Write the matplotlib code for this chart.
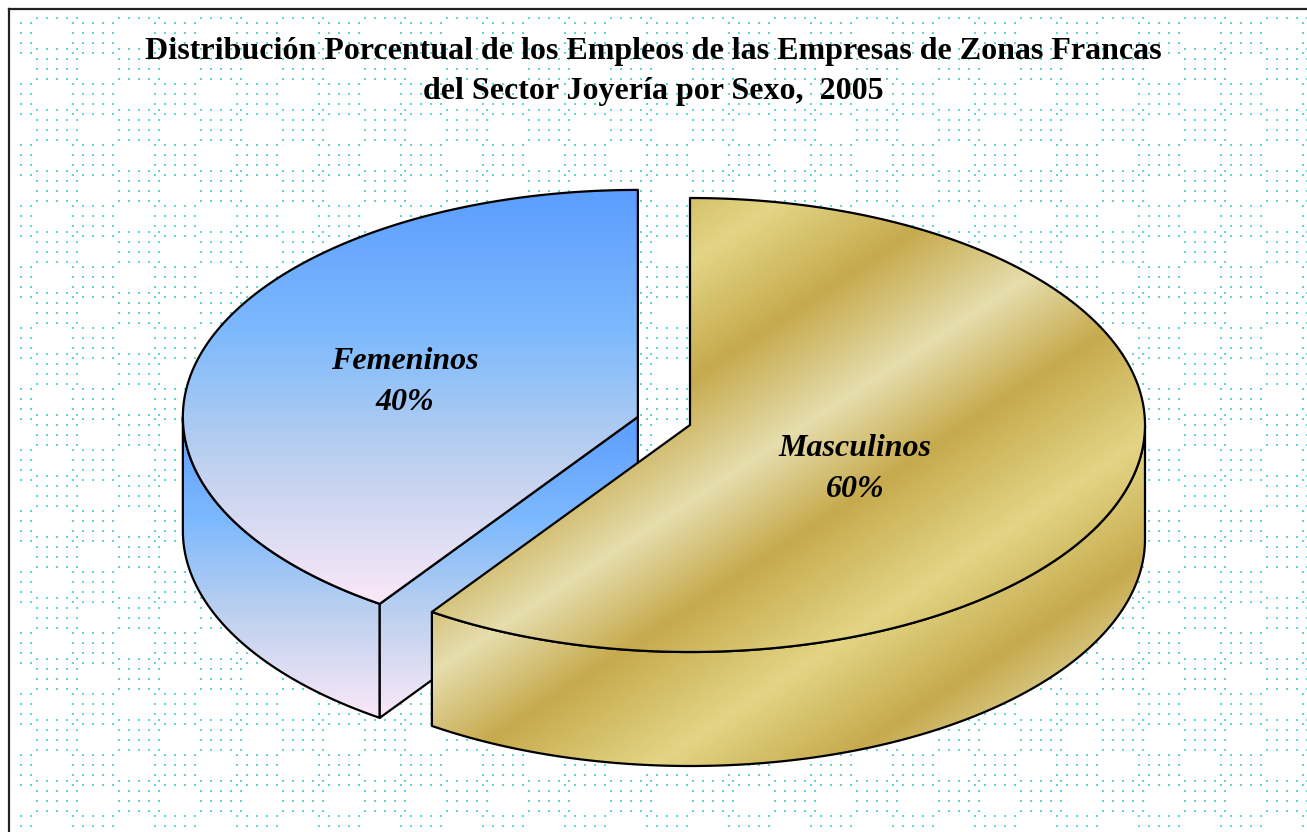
import numpy as np
import matplotlib.pyplot as plt
from matplotlib.patches import Polygon
from matplotlib.colors import LinearSegmentedColormap

W, H = 1307, 832

title_lines = ["Distribución Porcentual de los Empleos de las Empresas de Zonas Francas",
               "del Sector Joyería por Sexo,  2005"]
labels = ["Femeninos", "Masculinos"]
shares = [40.4, 59.6]
explode = [0.12, 0.0]

# pie geometry in pixels (y grows downward)
cx, cy = 690, 425
rx, ry = 455, 227
depth = 114
label_pos = [(405, 382), (855, 469)]

fem_cmap = LinearSegmentedColormap.from_list(
    "fem", [(0, "#5c9dff"), (0.35, "#7ebafd"), (0.65, "#bcd0ef"), (1, "#fbe8f8")])
gold_cmap = LinearSegmentedColormap.from_list(
    "gold", [(0, "#e6ddad"), (0.22, "#c6aa4d"), (0.5, "#e3d585"),
             (0.75, "#c6aa4d"), (1, "#e6ddad")])

fig = plt.figure(figsize=(W / 100, H / 100), dpi=100)
ax = fig.add_axes([0, 0, 1, 1])

# dotted background (two staggered blocks of dots)
dx, dy = [], []
for ox, oy in [(73, 23), (37, 49)]:
    for bx in range(ox - 82, W, 82):
        for by in range(oy - 61, H, 61):
            for i in range(5):
                for j in range(4):
                    dx.append(bx + 10 * i)
                    dy.append(by + 10 * j)
dx, dy = np.array(dx), np.array(dy)
keep = (dx > 12) & (dy > 12)
ax.scatter(dx[keep], dy[keep], s=4.5, marker="s", color="#62d6d6", linewidths=0, zorder=0)

# frame
ax.plot([9, 9], [H, 9], color="#222222", lw=1.6, zorder=1)
ax.plot([9, W], [9, 9], color="#222222", lw=1.6, zorder=1)

yy, xx = np.mgrid[0:H, 0:W] + 0.5
u = 0.553 * xx + 0.833 * yy
gold_img = gold_cmap(((u - 799) / 400.0) % 1.0)


def fem_img(ymin, ymax):
    return fem_cmap(np.clip((yy - ymin) / (ymax - ymin), 0, 1))


def arc(sx, sy, a, b, n=200, dz=0):
    t = np.radians(np.linspace(a, b, n))
    return np.column_stack([sx + rx * np.cos(t), sy - ry * np.sin(t) + dz])


def face(pts, img, z):
    p = Polygon(pts, closed=True, facecolor="none", edgecolor="black",
                lw=1.6, joinstyle="round", zorder=z + 0.5)
    ax.add_patch(p)
    if img is None:
        ymin, ymax = pts[:, 1].min(), pts[:, 1].max()
        img = fem_img(ymin, ymax)
    im = ax.imshow(img, extent=(0, W, H, 0), zorder=z, interpolation="bilinear")
    im.set_clip_path(p)


start = 90.0
z = 2
for k, (lab, val) in enumerate(zip(labels, shares)):
    span = 360.0 * val / sum(shares)
    a0, a1 = start, start + span
    mid = np.radians((a0 + a1) / 2)
    sx = cx + explode[k] * rx * np.cos(mid)
    sy = cy - explode[k] * ry * np.sin(mid)
    tex = None if k == 0 else gold_img

    # outer wall, front part only
    for m in (-1, 0, 1):
        lo, hi = max(a0, 180 + 360 * m), min(a1, 360 + 360 * m)
        if hi > lo:
            top = arc(sx, sy, lo, hi)
            bot = arc(sx, sy, hi, lo, dz=depth)
            face(np.vstack([top, bot]), tex, z)
    # radial cut faces that face the viewer
    for a, nrm in ((a0, a0 - 90), (a1, a1 + 90)):
        if np.sin(np.radians(nrm)) < -1e-6:
            rim = arc(sx, sy, a, a, n=1)[0]
            pts = np.array([[sx, sy], rim, rim + [0, depth], [sx, sy + depth]])
            face(pts, tex, z + 1)
    # top face
    face(np.vstack([[sx, sy], arc(sx, sy, a0, a1)]), tex, z + 2)

    lx, ly = label_pos[k]
    ax.text(lx, ly, f"{lab}\n{val:.0f}%", ha="center", va="center", fontsize=23,
            fontfamily="Liberation Serif", fontweight="bold", fontstyle="italic",
            linespacing=1.55, zorder=20)
    start = a1
    z += 4

ax.text(W / 2, 52, title_lines[0], ha="center", va="center", fontsize=23,
        fontfamily="Liberation Serif", fontweight="bold", zorder=20)
ax.text(W / 2, 92, title_lines[1], ha="center", va="center", fontsize=23,
        fontfamily="Liberation Serif", fontweight="bold", zorder=20)

ax.set_xlim(0, W)
ax.set_ylim(H, 0)
ax.set_aspect("auto")
ax.axis("off")
fig.savefig("out.png", dpi=100, facecolor="white")
